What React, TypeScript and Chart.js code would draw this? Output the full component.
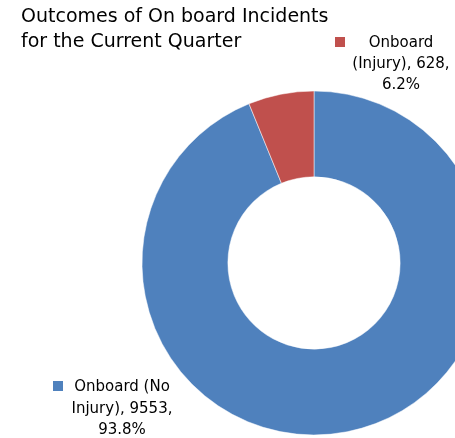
import React, { useEffect, useRef } from "react";
import { Chart, registerables } from "chart.js";

Chart.register(...registerables);

const categories = ["Onboard (No Injury)", "Onboard (Injury)"];
const values = [9553, 628];
const colors = ["#4F81BD", "#C0504D"];
const titleLines = ["Outcomes of On board Incidents", "for the Current Quarter"];
const labelLines = [
  ["Onboard (No", "Injury), 9553,", "93.8%"],
  ["Onboard", "(Injury), 628,", "6.2%"],
];

const FONT = "'DejaVu Sans', sans-serif";
const ASC = 0.928;
const CONTENT = 1.164;

// label layout: center x of text block, baselines, key square position
const labelLayout = [
  { cx: 122, baselines: [392, 414, 435], keyX: 53, keyY: 381 },
  { cx: 401, baselines: [48, 69, 90], keyX: 335, keyY: 37 },
];

export default function App() {
  const ref = useRef<HTMLCanvasElement>(null);

  useEffect(() => {
    const chart = new Chart(ref.current as HTMLCanvasElement, {
      type: "doughnut",
      data: {
        labels: categories,
        datasets: [
          {
            data: values,
            backgroundColor: colors,
            borderColor: "#ffffff",
            borderWidth: 0.5,
          },
        ],
      },
      options: {
        responsive: false,
        animation: false,
        radius: 172,
        cutout: 86,
        layout: { padding: { left: 142, right: 142, top: 91, bottom: 91 } },
        plugins: {
          legend: { display: false },
          tooltip: { enabled: false },
          title: { display: false },
        },
      } as any,
    });
    return () => chart.destroy();
  }, []);

  const textStyle = (size: number, baseline: number): React.CSSProperties => ({
    position: "absolute",
    top: baseline - Math.round(size * ASC),
    fontFamily: FONT,
    fontSize: size,
    lineHeight: `${Math.round(size * CONTENT)}px`,
    whiteSpace: "nowrap",
  });

  return (
    <div
      style={{
        position: "fixed",
        left: 0,
        top: 0,
        width: 455,
        height: 438,
        overflow: "hidden",
        background: "#ffffff",
      }}
    >
      <canvas
        ref={ref}
        width={628}
        height={526}
        style={{ position: "absolute", left: 0, top: 0, width: 628, height: 526 }}
      />
      {titleLines.map((t, i) => (
        <div key={"t" + i} style={{ ...textStyle(19, [22, 47][i]), left: 21, color: "#000000" }}>
          {t}
        </div>
      ))}
      {labelLines.map((lines, li) => (
        <React.Fragment key={"l" + li}>
          <div
            style={{
              position: "absolute",
              left: labelLayout[li].keyX,
              top: labelLayout[li].keyY,
              width: 10,
              height: 10,
              background: colors[li],
            }}
          />
          {lines.map((s, k) => (
            <div
              key={k}
              style={{
                ...textStyle(15, labelLayout[li].baselines[k]),
                left: labelLayout[li].cx - 120,
                width: 240,
                textAlign: "center",
                color: "#000000",
              }}
            >
              {s}
            </div>
          ))}
        </React.Fragment>
      ))}
    </div>
  );
}
